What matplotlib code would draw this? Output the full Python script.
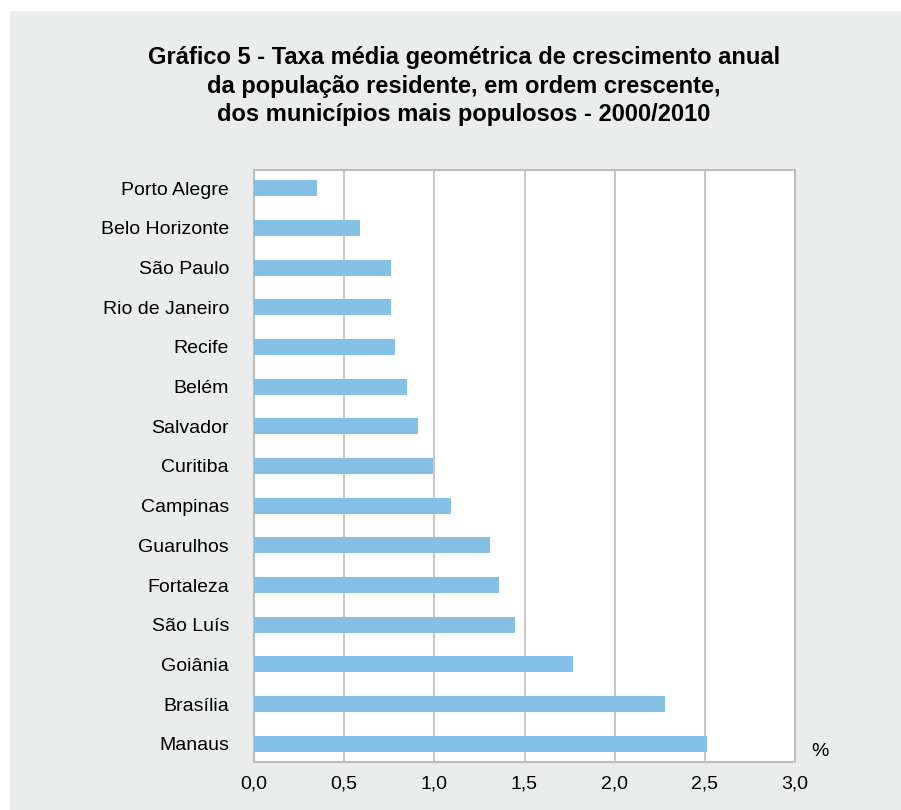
import matplotlib.pyplot as plt
from matplotlib.patches import Rectangle

plt.rcParams['font.family'] = ['Liberation Sans', 'DejaVu Sans']

cidades = ['Porto Alegre', 'Belo Horizonte', 'São Paulo', 'Rio de Janeiro', 'Recife',
           'Belém', 'Salvador', 'Curitiba', 'Campinas', 'Guarulhos', 'Fortaleza',
           'São Luís', 'Goiânia', 'Brasília', 'Manaus']
taxas = [0.35, 0.59, 0.76, 0.76, 0.78, 0.85, 0.91, 0.99, 1.09, 1.31, 1.36, 1.45, 1.77, 2.28, 2.51]
xticks = [0.0, 0.5, 1.0, 1.5, 2.0, 2.5, 3.0]
xticklabels = ['0,0', '0,5', '1,0', '1,5', '2,0', '2,5', '3,0']

fig = plt.figure(figsize=(9.01, 8.10), dpi=100, facecolor='white')
fig.patches.append(Rectangle((10 / 901, 0), 1, 1 - 11 / 810, transform=fig.transFigure,
                             facecolor='#ebecec', edgecolor='none', zorder=-5))

ax = fig.add_axes([254 / 901, 1 - 762 / 810, 541 / 901, 592 / 810])
ax.set_zorder(2)
ax.set_facecolor('white')
pos = list(range(len(cidades)))
ax.barh(pos, taxas, height=0.4, color='#85c1e6', zorder=3)
ax.set_ylim(14.46, -0.46)
ax.set_xlim(0, 3.0)
ax.set_yticks(pos)
ax.set_yticklabels(cidades, fontsize=14)
ax.set_xticks(xticks)
ax.set_xticklabels(xticklabels, fontsize=14)
ax.tick_params(length=0, pad=10)
ax.tick_params(axis='y', pad=18)
ax.grid(axis='x', color='#bdbdbd', linewidth=1.2, zorder=1)
for s in ax.spines.values():
    s.set_color('#bdbdbd')
    s.set_linewidth(1.5)

fig.text(820 / 901, 1 - 752 / 810, '%', fontsize=14, ha='center', va='center')
fig.text(464 / 901, 1 - 86 / 810,
         'Gráfico 5 - Taxa média geométrica de crescimento anual\n'
         'da população residente, em ordem crescente,\n'
         'dos municípios mais populosos - 2000/2010',
         fontsize=17, fontweight='bold', ha='center', va='center', linespacing=1.3)

fig.savefig('out.png', dpi=100, facecolor=fig.get_facecolor())
